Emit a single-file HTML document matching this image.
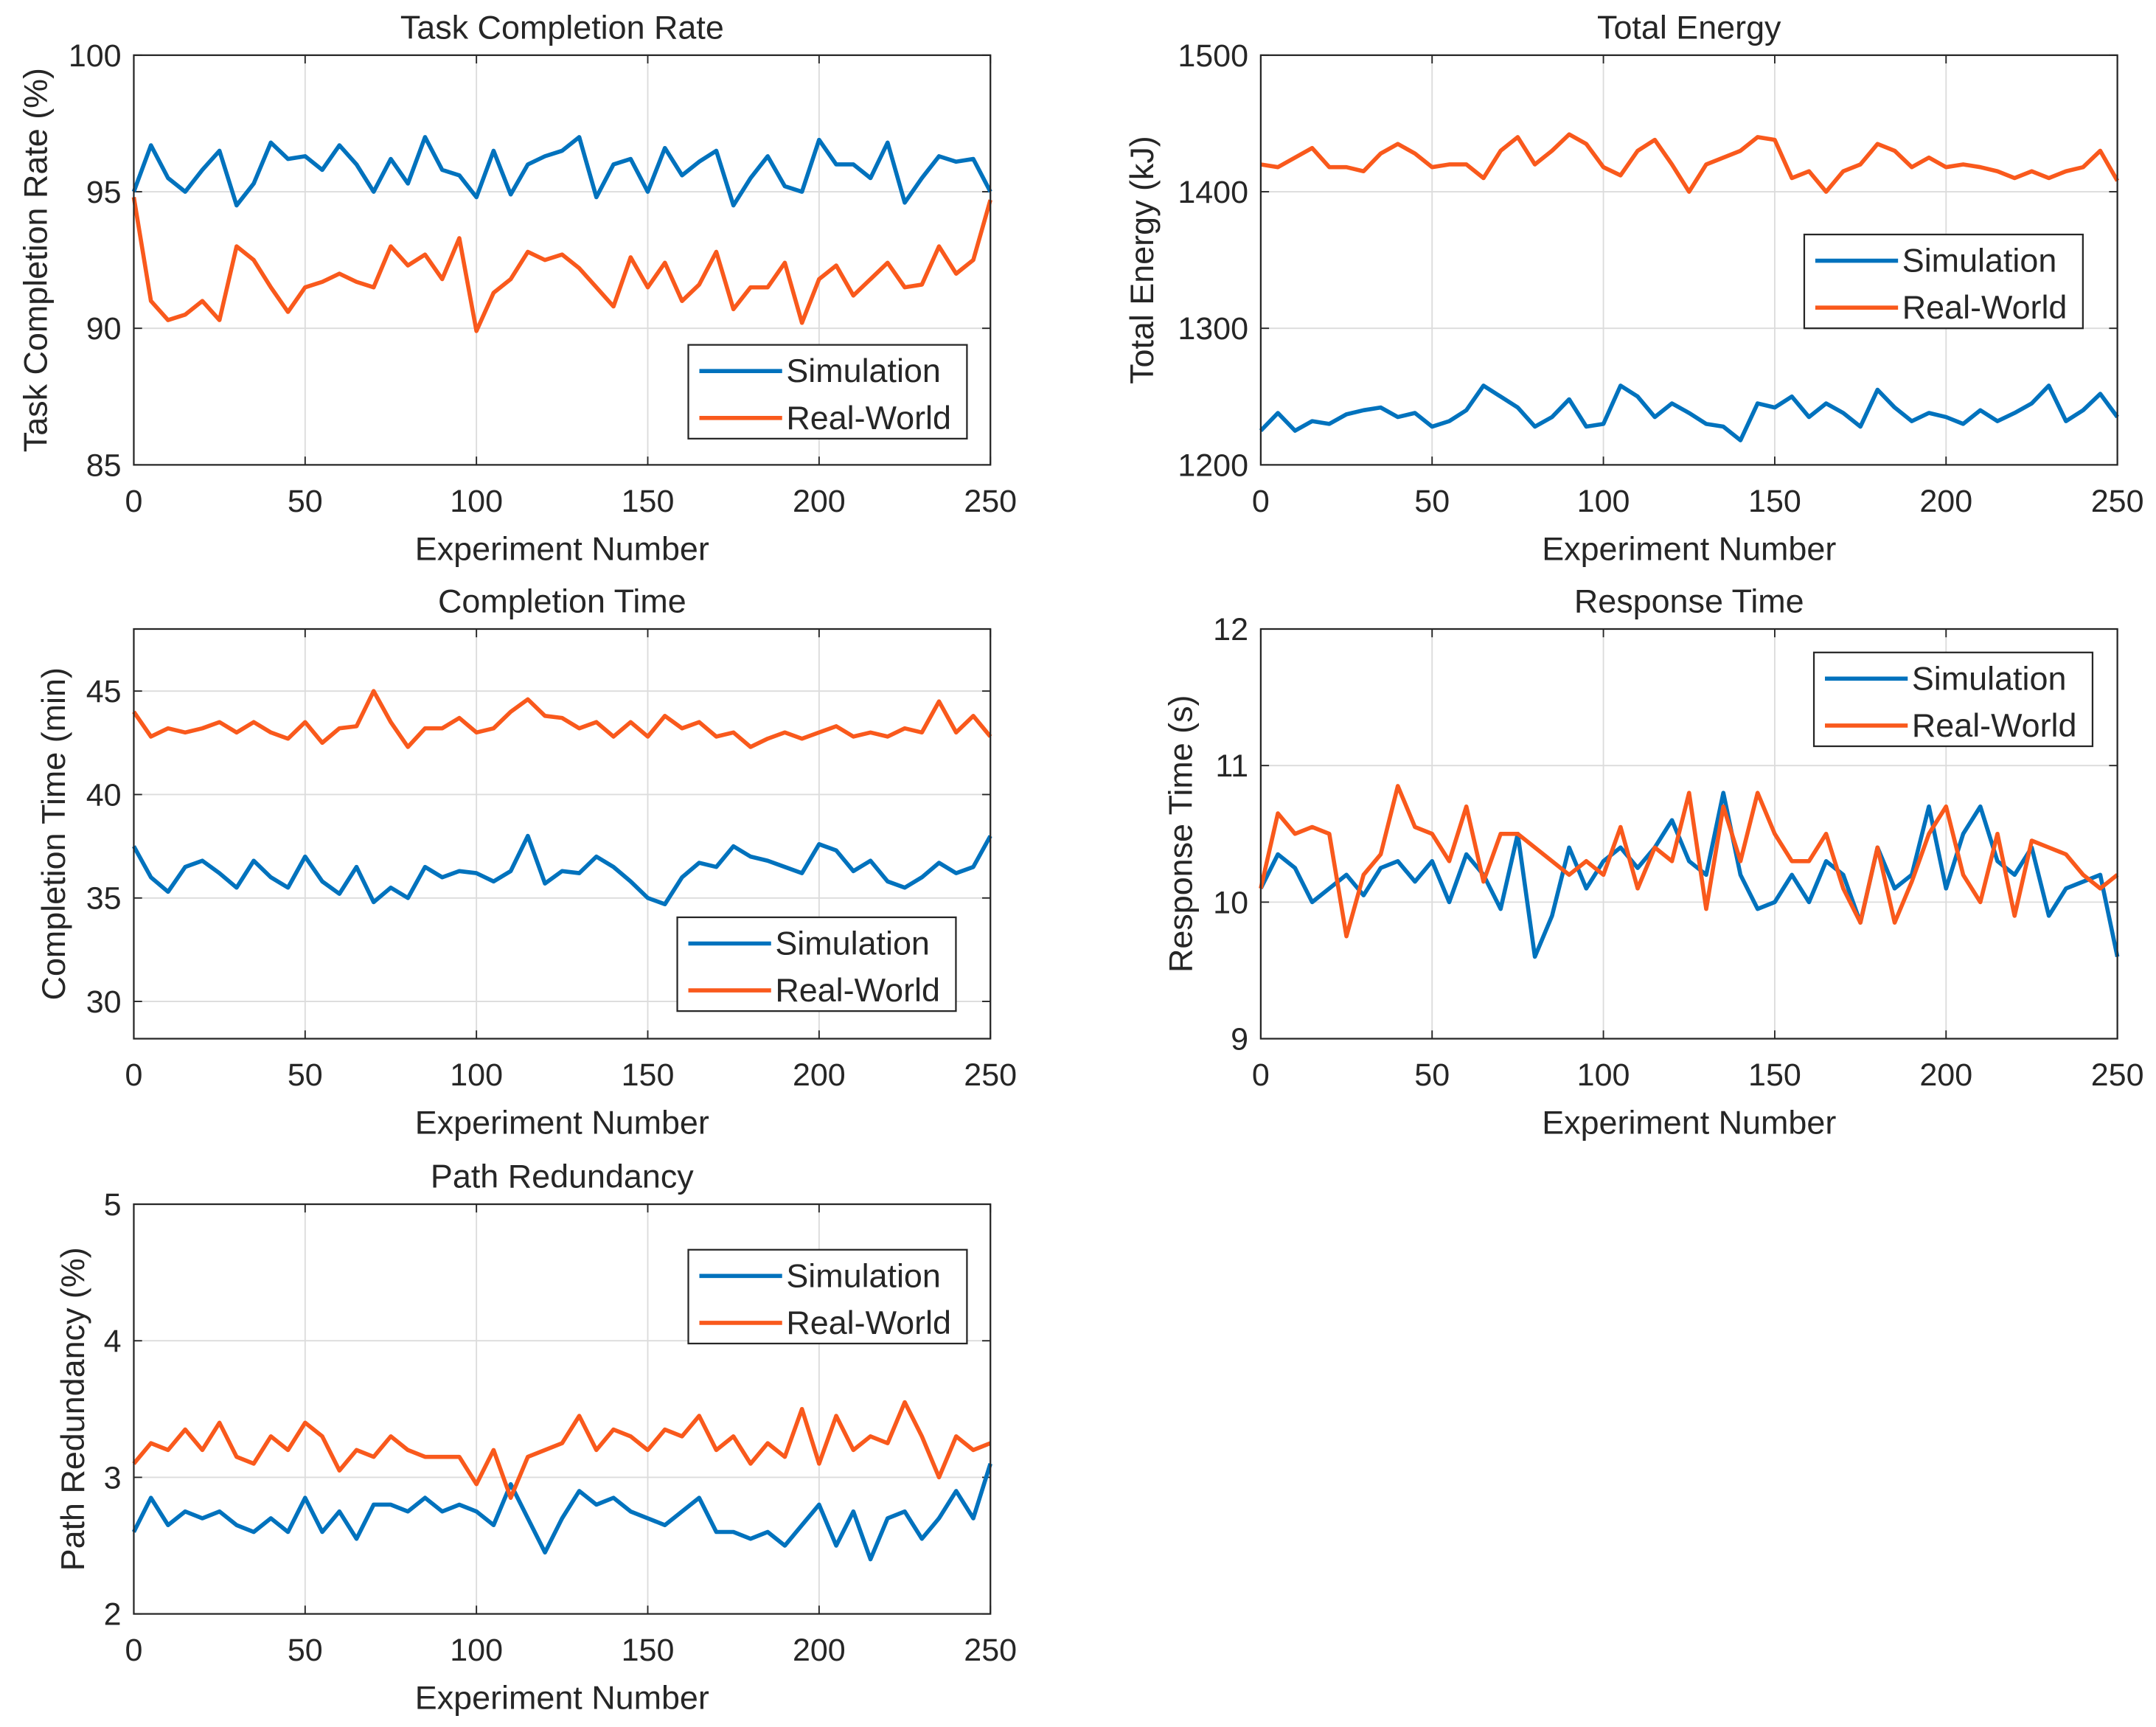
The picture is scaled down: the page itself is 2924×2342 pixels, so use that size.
<!DOCTYPE html>
<html><head><meta charset="utf-8"><style>
html,body{margin:0;padding:0;background:#fff}
svg{display:block}
text{font-family:"Liberation Sans",sans-serif;fill:#262626}
</style></head><body>
<svg id="fig" width="2924" height="2342" viewBox="0 0 1563 1252" preserveAspectRatio="none" xmlns="http://www.w3.org/2000/svg"></svg>
<script>
const expNums = Array.from({length:51},(_,i)=>i*5);
const xTicks = [0,50,100,150,200,250];

const tcrSim = [95.0,96.7,95.5,95.0,95.8,96.5,94.5,95.3,96.8,96.2,96.3,95.8,96.7,96.0,95.0,96.2,95.3,97.0,95.8,95.6,94.8,96.5,94.9,96.0,96.3,96.5,97.0,94.8,96.0,96.2,95.0,96.6,95.6,96.1,96.5,94.5,95.5,96.3,95.2,95.0,96.9,96.0,96.0,95.5,96.8,94.6,95.5,96.3,96.1,96.2,95.0];
const tcrReal = [94.8,91.0,90.3,90.5,91.0,90.3,93.0,92.5,91.5,90.6,91.5,91.7,92.0,91.7,91.5,93.0,92.3,92.7,91.8,93.3,89.9,91.3,91.8,92.8,92.5,92.7,92.2,91.5,90.8,92.6,91.5,92.4,91.0,91.6,92.8,90.7,91.5,91.5,92.4,90.2,91.8,92.3,91.2,91.8,92.4,91.5,91.6,93.0,92.0,92.5,94.7];
const tcrTicks = [85,90,95,100];

const enSim = [1225,1238,1225,1232,1230,1237,1240,1242,1235,1238,1228,1232,1240,1258,1250,1242,1228,1235,1248,1228,1230,1258,1250,1235,1245,1238,1230,1228,1218,1245,1242,1250,1235,1245,1238,1228,1255,1242,1232,1238,1235,1230,1240,1232,1238,1245,1258,1232,1240,1252,1235];
const enReal = [1420,1418,1425,1432,1418,1418,1415,1428,1435,1428,1418,1420,1420,1410,1430,1440,1420,1430,1442,1435,1418,1412,1430,1438,1420,1400,1420,1425,1430,1440,1438,1410,1415,1400,1415,1420,1435,1430,1418,1425,1418,1420,1418,1415,1410,1415,1410,1415,1418,1430,1408];
const enTicks = [1200,1300,1400,1500];

const ctSim = [37.5,36,35.3,36.5,36.8,36.2,35.5,36.8,36,35.5,37,35.8,35.2,36.5,34.8,35.5,35.0,36.5,36,36.3,36.2,35.8,36.3,38,35.7,36.3,36.2,37,36.5,35.8,35,34.7,36.0,36.7,36.5,37.5,37,36.8,36.5,36.2,37.6,37.3,36.3,36.8,35.8,35.5,36,36.7,36.2,36.5,38];
const ctReal = [44,42.8,43.2,43,43.2,43.5,43,43.5,43,42.7,43.5,42.5,43.2,43.3,45,43.5,42.3,43.2,43.2,43.7,43,43.2,44,44.6,43.8,43.7,43.2,43.5,42.8,43.5,42.8,43.8,43.2,43.5,42.8,43,42.3,42.7,43,42.7,43,43.3,42.8,43,42.8,43.2,43,44.5,43,43.8,42.8];
const ctTicks = [30,35,40,45];
const ctLimits = [28.2,48];

const rtSim = [10.1,10.35,10.25,10.0,10.1,10.2,10.05,10.25,10.3,10.15,10.3,10.0,10.35,10.2,9.95,10.5,9.6,9.9,10.4,10.1,10.3,10.4,10.25,10.4,10.6,10.3,10.2,10.8,10.2,9.95,10.0,10.2,10.0,10.3,10.2,9.85,10.4,10.1,10.2,10.7,10.1,10.5,10.7,10.3,10.2,10.4,9.9,10.1,10.15,10.2,9.6];
const rtReal = [10.1,10.65,10.5,10.55,10.5,9.75,10.2,10.35,10.85,10.55,10.5,10.3,10.7,10.15,10.5,10.5,10.4,10.3,10.2,10.3,10.2,10.55,10.1,10.4,10.3,10.8,9.95,10.7,10.3,10.8,10.5,10.3,10.3,10.5,10.1,9.85,10.4,9.85,10.15,10.5,10.7,10.2,10.0,10.5,9.9,10.45,10.4,10.35,10.2,10.1,10.2];
const rtTicks = [9,10,11,12];

const prSim = [2.6,2.85,2.65,2.75,2.7,2.75,2.65,2.6,2.7,2.6,2.85,2.6,2.75,2.55,2.8,2.8,2.75,2.85,2.75,2.8,2.75,2.65,2.95,2.7,2.45,2.7,2.9,2.8,2.85,2.75,2.7,2.65,2.75,2.85,2.6,2.6,2.55,2.6,2.5,2.65,2.8,2.5,2.75,2.4,2.7,2.75,2.55,2.7,2.9,2.7,3.1];
const prReal = [3.1,3.25,3.2,3.35,3.2,3.4,3.15,3.1,3.3,3.2,3.4,3.3,3.05,3.2,3.15,3.3,3.2,3.15,3.15,3.15,2.95,3.2,2.85,3.15,3.2,3.25,3.45,3.2,3.35,3.3,3.2,3.35,3.3,3.45,3.2,3.3,3.1,3.25,3.15,3.5,3.1,3.45,3.2,3.3,3.25,3.55,3.3,3.0,3.3,3.2,3.25];
const prTicks = [2,3,4,5];

const NS='http://www.w3.org/2000/svg';
const svg=document.getElementById('fig');
function mk(tag,attrs,parent){const e=document.createElementNS(NS,tag);for(const k in attrs)e.setAttribute(k,attrs[k]);(parent||svg).appendChild(e);return e;}

function chart(o){
  const g=mk('g',{});
  
  
  const L=o.x,T=o.y,W=621,H=297;
  const xmin=0,xmax=250;
  const ymin=o.lim?o.lim[0]:o.ticks[0], ymax=o.lim?o.lim[1]:o.ticks[o.ticks.length-1];
  const sx=v=>L+(v-xmin)/(xmax-xmin)*W;
  const sy=v=>T+H-(v-ymin)/(ymax-ymin)*H;
  mk('rect',{x:L,y:T,width:W,height:H,fill:'#fff'},g);
  xTicks.forEach(t=>{
    const gl=mk('line',{x1:sx(t),x2:sx(t),y1:T,y2:T+H,stroke:'#dcdcdc','stroke-width':1},g);
    
    
    mk('line',{x1:sx(t),x2:sx(t),y1:T+H,y2:T+H-6,stroke:'#262626','stroke-width':1},g);
    mk('line',{x1:sx(t),x2:sx(t),y1:T,y2:T+6,stroke:'#262626','stroke-width':1},g);
    const tx=mk('text',{x:sx(t),y:T+H+34,'font-size':23,'text-anchor':'middle'},g);
    tx.textContent=t;
    
    
  });
  o.ticks.forEach(t=>{
    const gl=mk('line',{x1:L,x2:L+W,y1:sy(t),y2:sy(t),stroke:'#dcdcdc','stroke-width':1},g);
    
    
    mk('line',{x1:L,x2:L+6,y1:sy(t),y2:sy(t),stroke:'#262626','stroke-width':1},g);
    mk('line',{x1:L+W,x2:L+W-6,y1:sy(t),y2:sy(t),stroke:'#262626','stroke-width':1},g);
    const tx=mk('text',{x:L-9,y:sy(t)+8,'font-size':23,'text-anchor':'end'},g);
    tx.textContent=t;
    
    
  });
  const series=[[o.sim,'#0072BD','simulation-line'],[o.real,'#F9591C','real-world-line']];
  series.forEach(([d,c,n])=>{
    const pts=d.map((v,i)=>sx(expNums[i]).toFixed(2)+','+sy(v).toFixed(2)).join(' ');
    const p=mk('polyline',{points:pts,fill:'none',stroke:c,'stroke-width':3,'stroke-linejoin':'round'},g);
    
    
  });
  const box=mk('rect',{x:L,y:T,width:W,height:H,fill:'none',stroke:'#262626','stroke-width':1.2},g);
  
  
  const ti=mk('text',{x:L+W/2,y:T-12,'font-size':24,'text-anchor':'middle'},g);
  ti.textContent=o.title;
  
  
  const xl=mk('text',{x:L+W/2,y:T+H+69,'font-size':24,'text-anchor':'middle'},g);
  xl.textContent='Experiment Number';
  
  
  const yl=mk('text',{x:0,y:0,'font-size':24,'text-anchor':'middle',transform:`translate(${o.ylx},${T+H/2}) rotate(-90)`},g);
  yl.textContent=o.ylabel;
  
  
  const lg=mk('g',{},g);
  
  
  mk('rect',{x:o.lx,y:o.ly,width:202,height:68,fill:'#fff',stroke:'#262626','stroke-width':1.2},lg);
  [['Simulation','#0072BD',19],['Real-World','#F9591C',53]].forEach(([lab,c,dy])=>{
    const ln=mk('line',{x1:o.lx+8,x2:o.lx+68,y1:o.ly+dy,y2:o.ly+dy,stroke:c,'stroke-width':3},lg);
    
    
    const t=mk('text',{x:o.lx+71,y:o.ly+dy+8,'font-size':24},lg);
    t.textContent=lab;
    
    
  });
}

chart({name:'task-completion-rate-chart',x:97,y:40,ticks:tcrTicks,sim:tcrSim,real:tcrReal,title:'Task Completion Rate',ylabel:'Task Completion Rate (%)',ylx:34,lx:499,ly:250});
chart({name:'total-energy-chart',x:914,y:40,ticks:enTicks,sim:enSim,real:enReal,title:'Total Energy',ylabel:'Total Energy (kJ)',ylx:836,lx:1308,ly:170});
chart({name:'completion-time-chart',x:97,y:456,ticks:ctTicks,lim:ctLimits,sim:ctSim,real:ctReal,title:'Completion Time',ylabel:'Completion Time (min)',ylx:47,lx:491,ly:665});
chart({name:'response-time-chart',x:914,y:456,ticks:rtTicks,sim:rtSim,real:rtReal,title:'Response Time',ylabel:'Response Time (s)',ylx:864,lx:1315,ly:473});
chart({name:'path-redundancy-chart',x:97,y:873,ticks:prTicks,sim:prSim,real:prReal,title:'Path Redundancy',ylabel:'Path Redundancy (%)',ylx:61,lx:499,ly:906});
</script>
</body></html>
